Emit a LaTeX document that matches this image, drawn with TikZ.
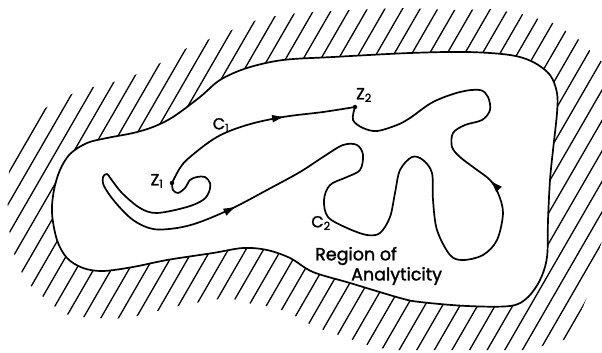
\documentclass[tikz,border=0pt]{standalone}
\usepackage{fontspec}
\setmainfont{Poppins}[FakeBold=1.6]
\usetikzlibrary{decorations.markings,arrows.meta}
\begin{document}
\begin{tikzpicture}[x=1pt,y=-1pt,
  curve/.style={line width=1.7pt, line join=round, line cap=round},
  hatch/.style={line width=1.3pt, line cap=round},
  lbl/.style={font=\fontsize{16}{16}\selectfont, inner sep=0pt},
  big/.style={font=\fontsize{17.5}{17.5}\selectfont, inner sep=0pt, anchor=west},
  dotnode/.style={circle, fill=black, inner sep=0pt, minimum size=4.5pt},
  arr/.style={postaction={decorate, decoration={markings, #1}}},
  tipa/.style={},
]
\useasboundingbox (0,0) rectangle (602,353);
% hatching outside the region
\begin{scope}
\clip (13,148) -- (32,117) -- (59,99) -- (82,90) -- (101,85) -- (121,80) -- (143,72) -- (168,59) -- (194,44) -- (213,38) -- (239,27) -- (262,18) -- (298,13) -- (352,10) -- (403,8) -- (455,10) -- (491,9) -- (522,14) -- (553,23) -- (577,38) -- (600,60) -- (602,62) -- (602,240) -- (590,290) -- (570,338) -- (528,350) -- (393,350) -- (373,347) -- (353,340) -- (333,333) -- (315,327) -- (297,317) -- (277,308) -- (260,305) -- (247,303) -- (230,298) -- (210,300) -- (190,304) -- (172,307) -- (150,313) -- (132,317) -- (113,319) -- (97,318) -- (80,317) -- (65,314) -- (53,305) -- (42,296) -- (31,286) -- (22,273) -- (15,257) -- (10,238) -- (8,213) -- (7,185) -- cycle;
\foreach \k in {-24,...,23}
  \draw[hatch] ({199.8+17.6*\k},360) -- ++(213.6,-370);
\end{scope}
% region of analyticity
\draw[curve, fill=white] plot[smooth cycle, tension=0.55] coordinates {
  (52,213) (54,190) (60,170) (70,154) (87,143) (107,138) (133,133) (153,127) (173,117)
  (200,97) (220,80) (247,68) (283,60) (333,57) (410,53) (467,52) (510,55) (533,62)
  (550,75) (557,93) (557,113) (553,150) (550,180) (548,220) (547,257) (540,280)
  (527,298) (510,306) (467,306) (420,302) (400,298) (350,283) (313,272) (290,258)
  (267,250) (243,248) (213,253) (167,260) (133,267) (103,271) (83,268) (67,258) (57,240)};
% end points
\node[dotnode] (z1) at (172,183) {};
\node[dotnode] (z2) at (355,107) {};
% C1
\draw[curve, arr={mark=at position 0.66 with {\arrow{Latex[length=13pt,width=8pt]}}}]
  plot[smooth, tension=0.6] coordinates {(z1) (180,168) (190,157) (217,137) (247,125) (283,117) (323,112) (z2)};
% C2
\draw[curve, arr={mark=at position 0.285 with {\arrow{Latex[length=13pt,width=8pt]}}, mark=at position 0.77 with {\arrow{Latex[length=13pt,width=8pt]}}}]
  plot[smooth, tension=0.55] coordinates {(z1) (173,190) (178,193) (185,188) (190,180) (197,177) (205,177)
  (210,183) (209,192) (203,200) (187,207) (157,213) (140,208) (122,193) (111,179) (107,174)
  (103,177) (104,186) (115,202) (133,220) (153,229) (177,228) (200,222) (233,208) (267,190)
  (300,172) (323,157) (343,145) (357,145) (363,155) (360,170) (347,177) (330,185) (324,200)
  (328,217) (347,228) (367,235) (380,233) (390,217) (395,193) (400,170) (412,157) (423,160)
  (432,173) (433,200) (437,230) (450,255) (463,260) (483,255) (497,240) (503,213) (498,193)
  (490,180) (473,167) (460,157) (452,147) (453,133) (465,125) (482,120) (490,110) (488,97)
  (480,90) (460,92) (433,102) (410,118) (397,125) (377,131) (363,128) (353,120) (z2)};
% labels
\node[lbl] (lz1) at (157,181) {Z\textsubscript{1}};
\node[lbl] (lz2) at (364,95) {Z\textsubscript{2}};
\node[lbl] (lc1) at (221,125) {C\textsubscript{1}};
\node[lbl] (lc2) at (321,223) {C\textsubscript{2}};
\node[big] (reg1) at (315,256) {Region of};
\node[big] (reg2) at (351,276) {Analyticity};
\end{tikzpicture}
\end{document}
